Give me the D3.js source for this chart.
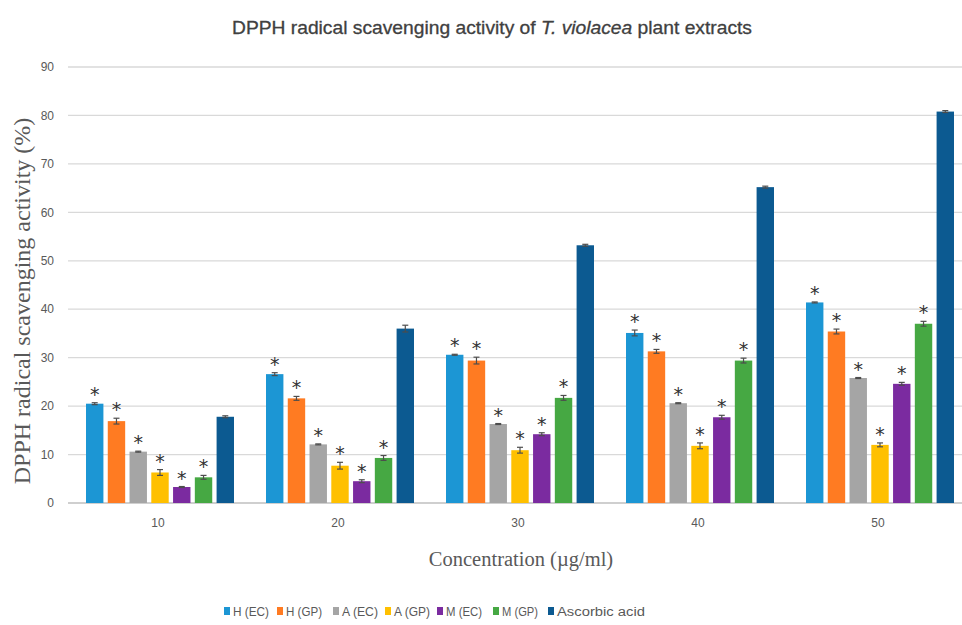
<!DOCTYPE html>
<html>
<head>
<meta charset="utf-8">
<script src="https://cdn.jsdelivr.net/npm/d3@7"></script>
<style>
  body { margin: 0; background: #fff; }
  svg { display: block; }
</style>
</head>
<body>
<div id="chart"></div>
<script>
// concentrations (µg/ml)
const concentrations = ['10', '20', '30', '40', '50'];
const seriesNames = ['H (EC)', 'H (GP)', 'A (EC)', 'A (GP)', 'M (EC)', 'M (GP)', 'Ascorbic acid'];
const seriesColors = ['#1c96d4', '#ff7b22', '#a5a5a5', '#ffc000', '#7b2ba0', '#46a843', '#0c5a91'];

// values per series, one per concentration
const hEC = [20.5, 26.6, 30.6, 35.1, 41.4];
const hGP = [16.9, 21.6, 29.4, 31.3, 35.4];
const aEC = [10.6, 12.1, 16.3, 20.6, 25.8];
const aGP = [6.3, 7.7, 10.9, 11.8, 12.0];
const mEC = [3.3, 4.5, 14.2, 17.7, 24.6];
const mGP = [5.3, 9.3, 21.7, 29.4, 37.0];
const ascorbic = [17.8, 36.0, 53.2, 65.2, 80.8];

// standard errors
const hECerr = [0.2, 0.3, 0.1, 0.6, 0.1];
const hGPerr = [0.6, 0.4, 0.7, 0.4, 0.5];
const aECerr = [0.1, 0.1, 0.1, 0.1, 0.1];
const aGPerr = [0.6, 0.7, 0.6, 0.6, 0.4];
const mECerr = [0.1, 0.3, 0.3, 0.4, 0.3];
const mGPerr = [0.4, 0.5, 0.5, 0.5, 0.5];
const ascErr = [0.2, 0.7, 0.2, 0.2, 0.2];

const yTicks = [0, 10, 20, 30, 40, 50, 60, 70, 80, 90];

const allValues = [hEC, hGP, aEC, aGP, mEC, mGP, ascorbic];
const allErrors = [hECerr, hGPerr, aECerr, aGPerr, mECerr, mGPerr, ascErr];
const significant = [true, true, true, true, true, true, false];

const width = 962, height = 625;
const margin = { top: 67, right: -8, bottom: 122, left: 70 };

const svg = d3.select('#chart').append('svg')
  .attr('width', width)
  .attr('height', height)
  .style('font-family', '"Liberation Sans", Arial, sans-serif');

const x0 = d3.scaleBand()
  .domain(concentrations)
  .range([margin.left, width - margin.right])
  .padding(0);

const x1 = d3.scaleBand()
  .domain(seriesNames)
  .range([16, x0.bandwidth() - 16])
  .paddingInner(0.2);

const y = d3.scaleLinear()
  .domain([0, 90])
  .range([height - margin.bottom, margin.top]);

// gridlines
svg.append('g')
  .selectAll('line')
  .data(yTicks)
  .join('line')
  .attr('x1', margin.left - 2)
  .attr('x2', width)
  .attr('y1', d => y(d))
  .attr('y2', d => y(d))
  .attr('stroke', d => d === 0 ? '#bfbfbf' : '#d9d9d9')
  .attr('stroke-width', 1.3);

// y tick labels
svg.append('g')
  .selectAll('text')
  .data(yTicks)
  .join('text')
  .attr('x', margin.left - 16)
  .attr('y', d => y(d))
  .attr('dy', '0.35em')
  .attr('text-anchor', 'end')
  .attr('font-size', 12)
  .attr('fill', '#595959')
  .text(d => d);

// x tick labels
svg.append('g')
  .selectAll('text')
  .data(concentrations)
  .join('text')
  .attr('x', d => x0(d) + x0.bandwidth() / 2 - 2)
  .attr('y', y(0) + 24)
  .attr('text-anchor', 'middle')
  .attr('font-size', 12)
  .attr('fill', '#595959')
  .text(d => d);

// bars
const rows = [];
seriesNames.forEach((s, si) => {
  concentrations.forEach((c, ci) => {
    rows.push({ series: s, si, conc: c, value: allValues[si][ci], err: allErrors[si][ci] });
  });
});

const group = svg.append('g');

group.selectAll('rect')
  .data(rows)
  .join('rect')
  .attr('x', d => x0(d.conc) + x1(d.series))
  .attr('y', d => y(d.value))
  .attr('width', x1.bandwidth())
  .attr('height', d => y(0) - y(d.value))
  .attr('fill', d => seriesColors[d.si]);

// error bars
const eb = group.selectAll('g.err')
  .data(rows)
  .join('g')
  .attr('class', 'err')
  .attr('stroke', '#4d4d4d')
  .attr('stroke-width', 1.2);

const cx = d => x0(d.conc) + x1(d.series) + x1.bandwidth() / 2;

eb.append('line')
  .attr('x1', cx)
  .attr('x2', cx)
  .attr('y1', d => y(d.value + d.err))
  .attr('y2', d => y(d.value - d.err));

eb.append('line')
  .attr('x1', d => cx(d) - 3)
  .attr('x2', d => cx(d) + 3)
  .attr('y1', d => y(d.value + d.err))
  .attr('y2', d => y(d.value + d.err));

eb.append('line')
  .attr('x1', d => cx(d) - 3)
  .attr('x2', d => cx(d) + 3)
  .attr('y1', d => y(d.value - d.err))
  .attr('y2', d => y(d.value - d.err));

// significance asterisks
group.selectAll('text.star')
  .data(rows.filter(d => significant[d.si]))
  .join('text')
  .attr('class', 'star')
  .attr('x', cx)
  .attr('y', d => y(d.value + d.err) - 2)
  .attr('text-anchor', 'middle')
  .attr('font-family', '"DejaVu Sans", sans-serif')
  .attr('font-size', 19)
  .attr('fill', '#333')
  .text('*');

// title
const title = svg.append('text')
  .attr('x', 492)
  .attr('y', 34)
  .attr('text-anchor', 'middle')
  .attr('font-size', 18.5)
  .attr('fill', '#404040')
  .attr('stroke', '#404040')
  .attr('stroke-width', 0.3)
  .attr('textLength', 520)
  .attr('lengthAdjust', 'spacingAndGlyphs');
title.append('tspan').text('DPPH radical scavenging activity of ');
title.append('tspan').attr('font-style', 'italic').text('T. violacea');
title.append('tspan').text(' plant extracts');

// axis titles
svg.append('text')
  .attr('transform', `translate(30, 301) rotate(-90)`)
  .attr('text-anchor', 'middle')
  .attr('font-family', '"Liberation Serif", "Times New Roman", serif')
  .attr('font-size', 24)
  .attr('fill', '#595959')
  .text('DPPH radical scavenging activity (%)');

svg.append('text')
  .attr('x', 521)
  .attr('y', 566)
  .attr('text-anchor', 'middle')
  .attr('font-family', '"Liberation Serif", "Times New Roman", serif')
  .attr('font-size', 20.5)
  .attr('fill', '#595959')
  .text('Concentration (\u00b5g/ml)');

// legend
const legendX = [224, 277, 333, 385, 437, 493, 548];
const legend = svg.append('g')
  .selectAll('g')
  .data(seriesNames)
  .join('g')
  .attr('transform', (d, i) => `translate(${legendX[i]}, 612)`);

legend.append('rect')
  .attr('x', 0)
  .attr('y', -5)
  .attr('width', 6)
  .attr('height', 8)
  .attr('fill', (d, i) => seriesColors[i]);

legend.append('text')
  .attr('x', 9)
  .attr('y', 0)
  .attr('dy', '0.35em')
  .attr('font-size', 12.5)
  .attr('fill', '#595959')
  .attr('textLength', d => d === 'Ascorbic acid' ? 88 : 36)
  .attr('lengthAdjust', 'spacingAndGlyphs')
  .text(d => d);
</script>
</body>
</html>
